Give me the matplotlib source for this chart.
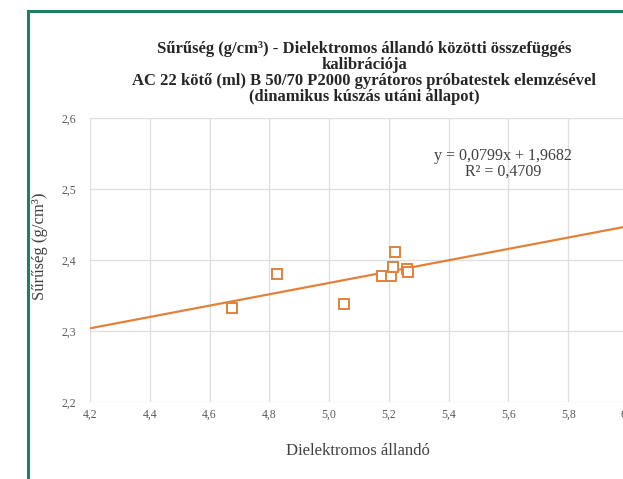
import numpy as np
import matplotlib.pyplot as plt
from matplotlib.patches import Rectangle

# measured points (dielectric constant, density)
diel = [4.675, 4.825, 5.05, 5.176, 5.208, 5.215, 5.222, 5.262, 5.265]
density = [2.332, 2.380, 2.338, 2.377, 2.378, 2.390, 2.411, 2.388, 2.383]

# trendline reported on the chart
slope = 0.0799
intercept = 1.9682
r2 = 0.4709

x_ticks = [4.2, 4.4, 4.6, 4.8, 5.0, 5.2, 5.4, 5.6, 5.8, 6.0]
y_ticks = [2.2, 2.3, 2.4, 2.5, 2.6]

plt.rcParams["font.family"] = ["Liberation Serif", "DejaVu Serif"]


def hu(v, d):
    # hungarian decimal comma
    return ("%.*f" % (d, v)).replace(".", ",")


orange = "#e2823a"
fig = plt.figure(figsize=(6.23, 4.79), dpi=100)
ax = fig.add_axes([90 / 623, 1 - 402 / 479, 538 / 623, 284 / 479])

# trendline across the full axis range
xl = np.array([x_ticks[0], x_ticks[-1]])
ax.plot(xl, slope * xl + intercept, color=orange, lw=1.6, zorder=2)
ax.plot(diel, density, ls="none", marker="s", ms=6.5, mfc="white",
        mec=orange, mew=1.4, zorder=3)

ax.set_xlim(x_ticks[0], x_ticks[-1])
ax.set_ylim(y_ticks[0], y_ticks[-1])
ax.set_xticks(x_ticks)
ax.set_yticks(y_ticks)
ax.set_xticklabels([hu(v, 1) for v in x_ticks])
ax.set_yticklabels([hu(v, 1) for v in y_ticks])
ax.tick_params(length=0, labelsize=8.5, colors="#595959")
ax.tick_params(axis="y", pad=10)
ax.tick_params(axis="x", pad=5)
ax.grid(True, color="#dedede", lw=0.9)
ax.set_axisbelow(True)
for s in ax.spines.values():
    s.set_visible(False)

fig.text(364 / 623, 1 - 73 / 479,
         "Sűrűség (g/cm³) - Dielektromos állandó közötti összefüggés\n"
         "kalibrációja\n"
         "AC 22 kötő (ml) B 50/70 P2000 gyrátoros próbatestek elemzésével\n"
         "(dinamikus kúszás utáni állapot)",
         ha="center", va="center", fontsize=12, fontweight="bold",
         color="#262626", linespacing=1.02)

eq = "y = %sx + %s\nR² = %s" % (hu(slope, 4), hu(intercept, 4), hu(r2, 4))
fig.text(503 / 623, 1 - 164 / 479, eq, ha="center", va="center",
         fontsize=11.5, color="#404040", linespacing=0.95)

fig.text(40 / 623, 1 - 246 / 479, "Sűrűség (g/cm³)", rotation=90,
         ha="center", va="center", fontsize=12, color="#404040")
fig.text(358 / 623, 1 - 451 / 479, "Dielektromos állandó",
         ha="center", va="center", fontsize=12, color="#404040")

# green frame around the chart (clipped on right/bottom in the original)
fig.patches.append(Rectangle((28 / 623, -0.2), 1.2, 1 - 11 / 479 + 0.2,
                             transform=fig.transFigure, fill=False,
                             edgecolor="#1f7f62", lw=2.2))

fig.savefig("out.png", dpi=100)
